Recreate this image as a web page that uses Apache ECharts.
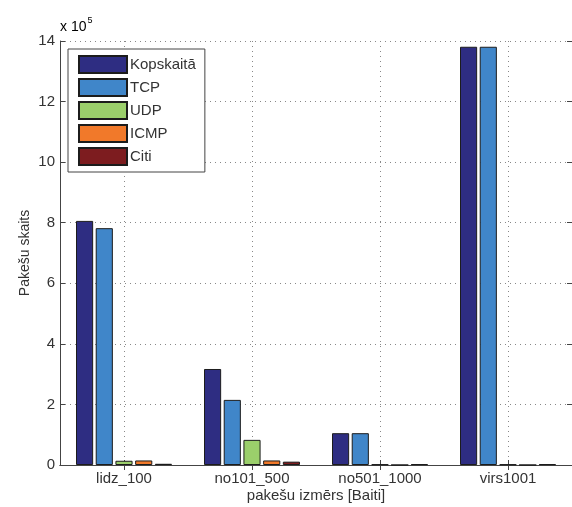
<!DOCTYPE html>
<html>
<head>
<meta charset="utf-8">
<script src="https://cdn.jsdelivr.net/npm/echarts@6/dist/echarts.min.js"></script>
<style>
  html, body { margin: 0; padding: 0; background: #fff; overflow: hidden; }
  #chart { width: 572px; height: 507px; }
</style>
</head>
<body>
<div id="chart"></div>
<script>
// Packet counts per size class, in units of 10^5 packets
const categories = ['lidz_100', 'no101_500', 'no501_1000', 'virs1001'];
const kopskaita = [8.06, 3.17, 1.05, 13.81];
const tcp = [7.82, 2.15, 1.05, 13.81];
const udp = [0.14, 0.83, 0.02, 0.02];
const icmp = [0.15, 0.15, 0, 0];
const citi = [0.04, 0.11, 0.03, 0.03];
const yTicks = [0, 2, 4, 6, 8, 10, 12, 14];

const seriesNames = ['Kopskaitā', 'TCP', 'UDP', 'ICMP', 'Citi'];
const seriesData = [kopskaita, tcp, udp, icmp, citi];
const seriesColors = ['#2e2d82', '#4086c9', '#9bcf6b', '#f1792a', '#7d1c1f'];

const FONT = '"Liberation Sans", Arial, Helvetica, sans-serif';
const AXIS_COLOR = '#444';
const TEXT_COLOR = '#333';
const GRID_LINE = { color: '#888', type: [1, 4], width: 1 };

// Top axis splits each category in half, so its odd points sit on the
// category centres: those carry the dotted vertical grid and the ticks.
const halfSteps = [''];
categories.forEach(c => { halfSteps.push(c, ''); });
const atCentre = index => index % 2 === 1;

const chart = echarts.init(document.getElementById('chart'), null, { renderer: 'canvas' });

const barSeries = seriesNames.map((name, i) => ({
  name: name,
  type: 'bar',
  data: seriesData[i],
  xAxisIndex: 0,
  yAxisIndex: 0,
  z: 2,
  barCategoryGap: '25%',
  barGap: '15%',
  itemStyle: { color: seriesColors[i], borderColor: '#1c1c1c', borderWidth: 1 },
  emphasis: { disabled: true }
}));

chart.setOption({
  animation: false,
  backgroundColor: '#fff',
  textStyle: { fontFamily: FONT },
  grid: { left: 60, right: 0, top: 41, bottom: 42, containLabel: false, outerBoundsMode: 'none' },
  legend: {
    data: seriesNames,
    orient: 'vertical',
    left: 68,
    top: 49,
    padding: [6, 9, 6, 10],
    itemWidth: 48,
    itemHeight: 17,
    itemGap: 4,
    icon: 'rect',
    borderColor: AXIS_COLOR,
    borderWidth: 1,
    backgroundColor: '#fff',
    textStyle: { fontFamily: FONT, fontSize: 15, lineHeight: 17, color: TEXT_COLOR, padding: [0, 0, 0, -2] }
  },
  xAxis: [
    {
      type: 'category',
      data: categories,
      position: 'bottom',
      name: 'pakešu izmērs [Baiti]',
      nameLocation: 'middle',
      nameGap: 23,
      nameMoveOverlap: false,
      nameTextStyle: { fontFamily: FONT, fontSize: 15, color: TEXT_COLOR },
      axisLine: { lineStyle: { color: AXIS_COLOR, width: 1 } },
      axisTick: { show: true, inside: true, alignWithLabel: true, length: 5, lineStyle: { color: AXIS_COLOR } },
      axisLabel: { fontFamily: FONT, fontSize: 15, color: TEXT_COLOR, margin: 6 },
      splitLine: { show: false }
    },
    {
      type: 'category',
      data: halfSteps,
      boundaryGap: false,
      position: 'top',
      axisLine: { lineStyle: { color: AXIS_COLOR, width: 1 } },
      axisTick: { show: true, inside: true, interval: atCentre, length: 5, lineStyle: { color: AXIS_COLOR } },
      axisLabel: { show: false },
      splitLine: { show: true, interval: atCentre, lineStyle: GRID_LINE }
    }
  ],
  yAxis: [
    {
      type: 'value',
      min: yTicks[0],
      max: yTicks[yTicks.length - 1],
      interval: 2,
      position: 'left',
      name: 'Pakešu skaits',
      nameLocation: 'middle',
      nameGap: 28,
      nameMoveOverlap: false,
      nameTextStyle: { fontFamily: FONT, fontSize: 14, color: TEXT_COLOR },
      axisLine: { show: true, lineStyle: { color: AXIS_COLOR, width: 1 } },
      axisTick: { show: true, inside: true, length: 5, lineStyle: { color: AXIS_COLOR } },
      axisLabel: { fontFamily: FONT, fontSize: 15, color: TEXT_COLOR, margin: 5 },
      splitLine: { show: true, lineStyle: GRID_LINE }
    },
    {
      type: 'value',
      min: yTicks[0],
      max: yTicks[yTicks.length - 1],
      interval: 2,
      position: 'right',
      axisLine: { show: true, lineStyle: { color: AXIS_COLOR, width: 1 } },
      axisTick: { show: true, inside: true, length: 5, lineStyle: { color: AXIS_COLOR } },
      axisLabel: { show: false },
      splitLine: { show: false }
    }
  ],
  graphic: [
    {
      type: 'text',
      left: 60,
      top: 16,
      style: {
        text: '{a|x 10}{s|5}',
        rich: {
          a: { fontFamily: FONT, fontSize: 14, color: TEXT_COLOR, verticalAlign: 'bottom', lineHeight: 18 },
          s: { fontFamily: FONT, fontSize: 9, color: TEXT_COLOR, verticalAlign: 'top', lineHeight: 18, padding: [0, 0, 8, 1] }
        }
      }
    }
  ],
  series: barSeries
});
</script>
</body>
</html>
